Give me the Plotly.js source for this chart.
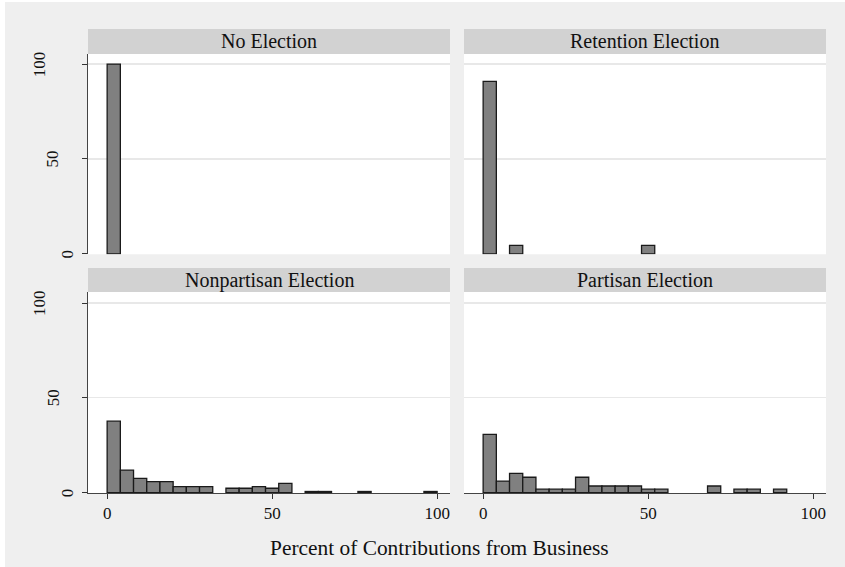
<!DOCTYPE html>
<html>
<head>
<meta charset="utf-8">
<script src="https://cdn.plot.ly/plotly-3.0.1.min.js"></script>
<style>html,body{margin:0;padding:0;background:#fff;}#chart{width:845px;height:567px;}</style>
</head>
<body>
<div id="chart"></div>
<script>
// ---- data ----
const binWidth = 4;
const binLeft = [0,4,8,12,16,20,24,28,32,36,40,44,48,52,56,60,64,68,72,76,80,84,88,92,96];
const panelTitles = ["No Election", "Retention Election", "Nonpartisan Election", "Partisan Election"];
const noElection  = [100,null,null,null,null,null,null,null,null,null,null,null,null,null,null,null,null,null,null,null,null,null,null,null,null];
const retention   = [90.9,null,4.5,null,null,null,null,null,null,null,null,null,4.5,null,null,null,null,null,null,null,null,null,null,null,null];
const nonpartisan = [37.7,11.9,7.5,5.8,5.8,3.2,3.2,3.2,null,2.3,2.3,3.2,2.3,4.9,null,0.6,0.6,null,null,0.6,null,null,null,null,0.6];
const partisan    = [30.7,6.1,10.2,8.1,1.8,1.8,1.8,8.1,3.5,3.5,3.5,3.5,1.8,1.8,null,null,null,3.5,null,1.8,1.8,null,1.8,null,null];
const xTickVals = [0, 50, 100];
const yTickVals = [0, 50, 100];
const xTitle = "Percent of Contributions from Business";

// ---- build ----
const W = 845, H = 567;
const FONT = "Liberation Serif";
const centers = binLeft.map(b => b + binWidth / 2);
const series = [noElection, retention, nonpartisan, partisan];
const axisIds = [["x","y"],["x2","y2"],["x3","y3"],["x4","y4"]];

const traces = series.map((vals, i) => ({
  type: "bar",
  x: centers,
  y: vals,
  width: binWidth,
  xaxis: axisIds[i][0],
  yaxis: axisIds[i][1],
  marker: {color: "#808080", line: {color: "#1a1a1a", width: 1.3}},
  hoverinfo: "x+y",
  showlegend: false
}));

const colDom = [[88/W, 450/W], [464/W, 826/W]];
const rowPx = [[54, 254.3], [292, 493]];      // plot area top/bottom (px)
const stripPx = [[29, 54], [268, 292]];
const rowDom = rowPx.map(r => [1 - r[1]/H, 1 - r[0]/H]);

const xRange = [-5.8, 103.9];
const yRanges = [[-0.2, 105.3], [-0.2, 105.8]];

function xaxisDef(col, row) {
  const bottom = row === 1;
  return {
    domain: colDom[col], range: xRange, anchor: axisIds[row*2+col][1],
    showgrid: false, zeroline: false,
    showline: bottom, linecolor: "#444", linewidth: 1,
    ticks: bottom ? "outside" : "", ticklen: 5, tickcolor: "#333", tickwidth: 1,
    tickvals: xTickVals, showticklabels: bottom,
    tickfont: {family: FONT, size: 17, color: "#111"}
  };
}
function yaxisDef(col, row) {
  const left = col === 0;
  return {
    domain: rowDom[row], range: yRanges[row], anchor: axisIds[row*2+col][0],
    showgrid: true, gridcolor: "#e8e8e8", gridwidth: 1.2, zeroline: false,
    showline: left, linecolor: "#444", linewidth: 1,
    ticks: left ? "outside" : "", ticklen: 5, tickcolor: "#333", tickwidth: 1,
    tickvals: yTickVals, showticklabels: false
  };
}

const layout = {
  width: W, height: H,
  margin: {l: 0, r: 0, t: 0, b: 0},
  paper_bgcolor: "#ffffff",
  plot_bgcolor: "rgba(0,0,0,0)",
  bargap: 0,
  xaxis: xaxisDef(0,0), yaxis: yaxisDef(0,0),
  xaxis2: xaxisDef(1,0), yaxis2: yaxisDef(1,0),
  xaxis3: xaxisDef(0,1), yaxis3: yaxisDef(0,1),
  xaxis4: xaxisDef(1,1), yaxis4: yaxisDef(1,1),
  shapes: [], annotations: []
};

// outer gray background
layout.shapes.push({type:"rect", xref:"paper", yref:"paper", layer:"below",
  x0: 5/W, x1: 1, y0: 0, y1: 1 - 2/H, fillcolor: "#efefef", line: {width: 0}});

for (let row = 0; row < 2; row++) {
  for (let col = 0; col < 2; col++) {
    const idx = row*2 + col;
    // white plot area
    layout.shapes.push({type:"rect", xref:"paper", yref:"paper", layer:"below",
      x0: colDom[col][0], x1: colDom[col][1], y0: rowDom[row][0], y1: rowDom[row][1],
      fillcolor: "#ffffff", line: {width: 0}});
    // strip
    const sy0 = 1 - stripPx[row][1]/H, sy1 = 1 - stripPx[row][0]/H;
    layout.shapes.push({type:"rect", xref:"paper", yref:"paper", layer:"below",
      x0: colDom[col][0], x1: colDom[col][1], y0: sy0, y1: sy1,
      fillcolor: "#d2d2d2", line: {width: 0}});
    layout.annotations.push({xref:"paper", yref:"paper",
      x: (colDom[col][0] + colDom[col][1]) / 2, y: (sy0 + sy1) / 2,
      xanchor: "center", yanchor: "middle", showarrow: false,
      text: panelTitles[idx], font: {family: FONT, size: 20, color: "#111"}});
    // rotated y tick labels on left column
    if (col === 0) {
      yTickVals.forEach(v => {
        const s = String(v);
        layout.annotations.push({xref:"paper", yref: axisIds[idx][1],
          x: (82 - 14.3 * s.length) / W, y: v, xanchor: "center", yanchor: "middle",
          textangle: -90, showarrow: false, text: s,
          font: {family: FONT, size: 17, color: "#111"}});
      });
    }
  }
}

// x axis title
layout.annotations.push({xref:"paper", yref:"paper", x: 439/W, y: 1 - 548/H,
  xanchor: "center", yanchor: "middle", showarrow: false, text: xTitle,
  font: {family: FONT, size: 21.4, color: "#111"}});

Plotly.newPlot("chart", traces, layout, {displayModeBar: false, staticPlot: true});
</script>
</body>
</html>
